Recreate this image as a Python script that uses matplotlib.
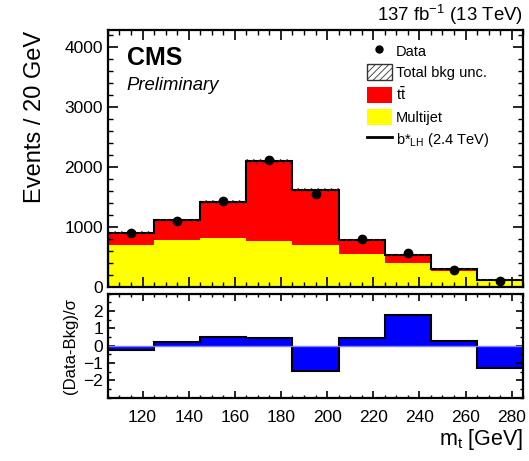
import numpy as np
import matplotlib
matplotlib.use("Agg")
from matplotlib import pyplot as plt
from matplotlib.ticker import MultipleLocator
from matplotlib.lines import Line2D
from matplotlib.patches import Patch

plt.rcParams['font.family'] = ['Liberation Sans', 'DejaVu Sans']
plt.rcParams['hatch.linewidth'] = 0.6

# binning in m_t
edges = [105, 125, 145, 165, 185, 205, 225, 245, 265, 285]
# stacked backgrounds (events per bin)
multijet = [700, 785, 825, 775, 700, 560, 407, 266, 119]
ttbar = [210, 328, 593, 1321, 915, 225, 124, 39, 5]
bkg_unc = [25, 28, 32, 40, 36, 22, 16, 12, 8]
data = [900, 1100, 1435, 2120, 1550, 800, 571, 293, 107]
# (Data-Bkg)/sigma per bin
pull = [-0.22, 0.19, 0.51, 0.42, -1.45, 0.42, 1.79, 0.27, -1.28]

edges = np.array(edges)
centers = 0.5 * (edges[:-1] + edges[1:])
total = np.array(multijet) + np.array(ttbar)
unc = np.array(bkg_unc)

fig = plt.figure(figsize=(5.29, 4.61), dpi=100)
ax = fig.add_axes([0.204, 0.377, 0.785, 0.557])
rx = fig.add_axes([0.204, 0.137, 0.785, 0.226])

ax.stairs(multijet, edges, fill=True, color="#ffff00", lw=0)
ax.stairs(total, edges, baseline=multijet, fill=True, color="#ff0000", lw=0)
ax.stairs(total, edges, color="black", lw=1.5)
ax.stairs(total + unc, edges, baseline=total - unc, fill=True, facecolor="none",
          edgecolor="#333333", hatch="/////", lw=0)
ax.errorbar(centers, data, yerr=np.sqrt(data), fmt="o", color="black", ms=6,
            capsize=0, elinewidth=1)

ax.set_xlim(105, 285)
ax.set_ylim(0, 4280)
ax.yaxis.set_major_locator(MultipleLocator(1000))
ax.yaxis.set_minor_locator(MultipleLocator(200))
ax.xaxis.set_major_locator(MultipleLocator(20))
ax.xaxis.set_minor_locator(MultipleLocator(5))
ax.set_xticklabels([])
ax.set_ylabel("Events / 20 GeV", fontsize=17, loc="top", labelpad=13)

rx.stairs(pull, edges, fill=True, color="#0000ff", lw=0)
rx.stairs(pull, edges, color="black", lw=1.5)
rx.axhline(0, color="#8080ff", lw=1)
rx.set_xlim(105, 285)
rx.set_ylim(-3, 3)
rx.yaxis.set_major_locator(MultipleLocator(1))
rx.yaxis.set_minor_locator(MultipleLocator(0.5))
rx.xaxis.set_major_locator(MultipleLocator(20))
rx.xaxis.set_minor_locator(MultipleLocator(5))
rx.set_yticks([-2, -1, 0, 1, 2])
rx.set_ylabel("(Data-Bkg)/σ", fontsize=12, labelpad=4)
rx.set_xlabel("m$_{\\mathregular{t}}$ [GeV]", fontsize=15.5, loc="right", labelpad=1)

for a in (ax, rx):
    a.tick_params(which="both", direction="in", top=True, right=True, labelsize=12.5)
    a.tick_params(which="major", length=7, width=1.2)
    a.tick_params(which="minor", length=3.5, width=1)
    for s in a.spines.values():
        s.set_linewidth(1.6)
rx.tick_params(which="major", length=5)
rx.tick_params(which="minor", length=2.5)
rx.tick_params(axis="x", pad=9)

ax.text(0.045, 0.94, "CMS", transform=ax.transAxes, fontsize=18, fontweight="bold",
        va="top")
ax.text(0.045, 0.82, "Preliminary", transform=ax.transAxes, fontsize=13.3,
        style="italic", va="top")
ax.text(1.0, 1.015, "137 fb$^{\\mathregular{-1}}$ (13 TeV)", transform=ax.transAxes,
        fontsize=13.4, ha="right", va="bottom")

handles = [
    Line2D([], [], marker="o", color="black", ms=5, ls="none"),
    Patch(facecolor="white", edgecolor="#333333", hatch="/////"),
    Patch(facecolor="#ff0000", edgecolor="none"),
    Patch(facecolor="#ffff00", edgecolor="none"),
    Line2D([], [], color="black", lw=2),
]
labels = ["Data", "Total bkg unc.", "t$\\bar{\\mathregular{t}}$", "Multijet",
          "b*$_{\\mathregular{LH}}$ (2.4 TeV)"]
ax.legend(handles, labels, loc="upper left", bbox_to_anchor=(0.61, 0.975),
          frameon=False, fontsize=10.5, handlelength=1.7, handleheight=1.3,
          handletextpad=0.3, labelspacing=0.4, borderaxespad=0)

fig.savefig("out.png", dpi=100)
